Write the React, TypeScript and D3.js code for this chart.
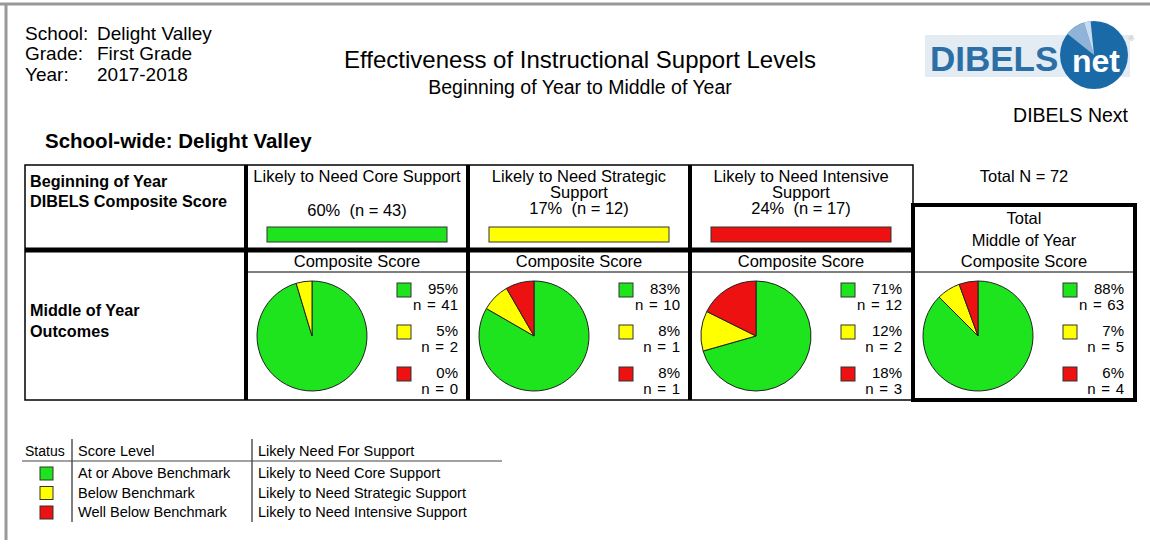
import React from "react";
import * as d3 from "d3";

// ---- data ----
const levelColors = ["#1ee41e", "#ffff00", "#ee1111"];
const levelNames = ["At or Above Benchmark", "Below Benchmark", "Well Below Benchmark"];
const supportNames = ["Likely to Need Core Support", "Likely to Need Strategic Support", "Likely to Need Intensive Support"];
const headerLines = [["Likely to Need Core Support"], ["Likely to Need Strategic", "Support"], ["Likely to Need Intensive", "Support"]];
const boyPct = [60, 17, 24];
const boyN = [43, 12, 17];
const moyN = [[41, 2, 0], [10, 1, 1], [12, 2, 3]];
const moyPct = [[95, 5, 0], [83, 8, 8], [71, 12, 18]];
const totalN = [63, 5, 4];
const totalPct = [88, 7, 6];
const totalCount = 72;

const FONT = "'Liberation Sans', Arial, sans-serif";

const col = d3.scaleBand<number>().domain([0, 1, 2, 3]).range([246, 1134]);
const pie = d3.pie<number>().sort(null).value(d => d);
const arc = d3.arc<d3.PieArcDatum<number>>().innerRadius(0).outerRadius(55);

function PieCell({ i, ns, pcts }: { i: number; ns: number[]; pcts: number[] }) {
  const x0 = col(i)!;
  const cy = 336;
  return (
    <g>
      <g transform={`translate(${x0 + 66},${cy})`}>
        {pie(ns).map((d, k) =>
          d.endAngle - d.startAngle > 0 ? (
            <path key={k} d={arc(d)!} fill={levelColors[k]} stroke="#222" strokeWidth={1} />
          ) : null
        )}
      </g>
      {pcts.map((p, k) => (
        <g key={k} fontSize={15}>
          <rect x={x0 + 151} y={283 + k * 42} width={14} height={14} fill={levelColors[k]} stroke="#333" strokeWidth={1} />
          <text x={x0 + 212} y={294 + k * 42} textAnchor="end">{p}%</text>
          <text x={x0 + 212} y={310 + k * 42} textAnchor="end" wordSpacing={1.5}>{`n = ${ns[k]}`}</text>
        </g>
      ))}
    </g>
  );
}

export default function App() {
  const logoPie = d3.arc<any>().innerRadius(0).outerRadius(34);
  return (
    <svg width={1150} height={546} style={{ position: "absolute", left: 0, top: 0, background: "#fff" }} fontFamily={FONT}>
      {/* page frame */}
      <line x1={0} y1={4} x2={1150} y2={4} stroke="#999" strokeWidth={3} />
      <line x1={6} y1={3} x2={6} y2={540} stroke="#999" strokeWidth={3} />

      {/* header info */}
      <g fontSize={19}>
        <text x={25} y={40}>School:</text>
        <text x={97} y={40}>Delight Valley</text>
        <text x={25} y={60}>Grade:</text>
        <text x={97} y={60}>First Grade</text>
        <text x={25} y={81}>Year:</text>
        <text x={97} y={81}>2017-2018</text>
      </g>
      <text x={580} y={68} textAnchor="middle" fontSize={24}>Effectiveness of Instructional Support Levels</text>
      <text x={580} y={94} textAnchor="middle" fontSize={19.5}>Beginning of Year to Middle of Year</text>
      <text x={45} y={148} fontSize={20.5} fontWeight="bold">School-wide: Delight Valley</text>

      {/* logo */}
      <rect x={925} y={35} width={205} height={42} fill="#e3ebf3" />
      <g transform="translate(1094,55)">
        <circle r={34} fill="#1b6aa8" />
        <path d={logoPie({ startAngle: -0.9, endAngle: -0.3 })!} fill="#8fb4d8" />
        <path d={logoPie({ startAngle: -0.3, endAngle: -0.1 })!} fill="#c9dbee" />
        <text x={2} y={17} textAnchor="middle" fontSize={32} fontWeight="bold" fill="#fff">net</text>
      </g>
      <text x={930} y={71} fontSize={35} fontWeight="bold" fill="#2c6ea6">DIBELS</text>
      <text x={1129} y={41} fontSize={7} fill="#aaa">®</text>
      <text x={1128} y={122} textAnchor="end" fontSize={19.5}>DIBELS Next</text>

      {/* table frame */}
      <rect x={25} y={165} width={888} height={235} fill="none" stroke="#000" strokeWidth={1.5} />
      <line x1={25} y1={250} x2={913} y2={250} stroke="#000" strokeWidth={5} />
      {[0, 1, 2].map(i => (
        <line key={i} x1={col(i)!} y1={165} x2={col(i)!} y2={400} stroke="#000" strokeWidth={4} />
      ))}
      <line x1={246} y1={272} x2={913} y2={272} stroke="#000" strokeWidth={1} />

      <g fontSize={16.2} fontWeight="bold">
        <text x={30} y={187}>Beginning of Year</text>
        <text x={30} y={207}>DIBELS Composite Score</text>
        <text x={30} y={316}>Middle of Year</text>
        <text x={30} y={337}>Outcomes</text>
      </g>

      {/* beginning of year groups */}
      {[0, 1, 2].map(i => {
        const cx = col(i)! + col.bandwidth() / 2;
        const lines = headerLines[i];
        return (
          <g key={i} fontSize={16.5} textAnchor="middle">
            {lines.map((l, k) => (
              <text key={k} x={cx} y={182 + k * 16}>{l}</text>
            ))}
            <text x={cx} y={lines.length > 1 ? 214 : 216} style={{ whiteSpace: "pre" }}>{`${boyPct[i]}%  (n = ${boyN[i]})`}</text>
            <rect x={col(i)! + 21} y={227} width={col.bandwidth() - 42} height={15} fill={levelColors[i]} stroke="#333" strokeWidth={1} />
            <text x={cx} y={267}>Composite Score</text>
          </g>
        );
      })}

      {[0, 1, 2].map(i => (
        <PieCell key={i} i={i} ns={moyN[i]} pcts={moyPct[i]} />
      ))}

      {/* total box */}
      <text x={1024} y={182} textAnchor="middle" fontSize={16.5}>Total N = {totalCount}</text>
      <rect x={col(3)! + 1} y={205} width={222} height={195} fill="none" stroke="#000" strokeWidth={4} />
      <line x1={913} y1={272} x2={1135} y2={272} stroke="#000" strokeWidth={1} />
      <g fontSize={16.5} textAnchor="middle">
        <text x={1024} y={224}>Total</text>
        <text x={1024} y={246}>Middle of Year</text>
        <text x={1024} y={267}>Composite Score</text>
      </g>
      <PieCell i={3} ns={totalN} pcts={totalPct} />

      {/* key */}
      <g fontSize={14.5}>
        <text x={25} y={456} fontSize={14}>Status</text>
        <text x={78} y={456}>Score Level</text>
        <text x={258} y={456}>Likely Need For Support</text>
        <line x1={72} y1={439} x2={72} y2={522} stroke="#000" strokeWidth={1} />
        <line x1={252} y1={439} x2={252} y2={522} stroke="#000" strokeWidth={1} />
        <line x1={22} y1={461} x2={502} y2={461} stroke="#444" strokeWidth={1} />
        {levelNames.map((n, k) => (
          <g key={k}>
            <rect x={40} y={467 + k * 19.5} width={13} height={13} fill={levelColors[k]} stroke="#333" strokeWidth={1} />
            <text x={78} y={478 + k * 19.5}>{n}</text>
            <text x={258} y={478 + k * 19.5}>{supportNames[k]}</text>
          </g>
        ))}
      </g>
    </svg>
  );
}
